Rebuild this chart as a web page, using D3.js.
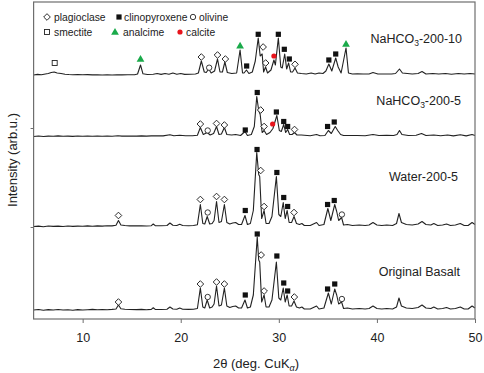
<!DOCTYPE html>
<html><head><meta charset="utf-8">
<script src="https://cdn.jsdelivr.net/npm/d3@7"></script>
<style>body{margin:0;background:#fff}svg{display:block;font-family:"Liberation Sans",Arial,sans-serif}</style>
</head><body><svg id="c" width="484" height="373"></svg>
<script>
const seriesNames = ["Original Basalt","Water-200-5","NaHCO3-200-5","NaHCO3-200-10"];
const offsets = [9, 92.5, 182.5, 244];
const xTicks = [10,20,30,40,50];

const basalt = [[5,0],[5.5,0.5],[6,-0.3],[6.5,0.4],[7,0],[7.5,0.5],[8,0],[8.5,0.3],[9,-0.2],[9.5,0.4],[10,0],[10.5,0.3],[11,0.6],[11.5,0.2],[12,0.5],[12.5,0.3],[13,0.6],[13.4,1],[13.65,5],[13.9,1.2],[14.3,0.8],[14.8,0.5],[15.5,0.4],[16,0.6],[16.5,0.3],[17,0.6],[17.2,2.2],[17.4,0.6],[18,0.5],[18.6,0.8],[18.9,3],[19.2,1],[19.6,0.8],[19.9,2],[20.2,0.8],[20.8,0.6],[21.3,0.8],[21.7,1.5],[22.0,22],[22.25,3],[22.45,2],[22.7,10],[22.95,2],[23.2,3],[23.4,6],[23.65,24],[23.9,4],[24.15,5],[24.45,22],[24.7,4],[25.0,2.5],[25.3,3.5],[25.6,4],[25.9,2],[26.2,2],[26.55,10],[26.8,2],[27.1,3],[27.4,15],[27.8,73],[27.95,50],[28.05,48],[28.25,8],[28.5,15],[28.7,3],[29.0,3],[29.3,10],[29.75,48],[30.0,12],[30.2,10],[30.45,22],[30.65,8],[30.85,15],[31.05,4],[31.3,4],[31.55,9],[31.8,3],[32.1,2],[32.35,3],[32.6,1],[33.2,1],[33.85,4],[34.1,1],[34.6,2],[35.05,17],[35.35,6],[35.7,21],[35.9,15],[36.1,6],[36.4,8],[36.6,1.5],[37.0,2],[37.5,1],[38.2,1.5],[38.8,1],[39.2,1.5],[39.6,4],[40,1.5],[40.5,1],[41,1.5],[41.6,1],[42.0,3],[42.25,12],[42.5,4],[43,2],[43.6,1.5],[44.2,2.5],[44.6,5],[45,2],[45.5,1.5],[45.8,3],[46.2,1],[46.7,1.5],[47.1,2.5],[47.5,1],[48,1.5],[48.5,3],[48.9,1],[49.3,1],[49.7,4],[50,2]];

const water = [[5,0],[5.5,0.4],[6,-0.2],[6.5,0.5],[7,0.1],[7.5,0.4],[8,0],[8.5,0.5],[9,0.1],[9.5,0.4],[10,0.2],[10.5,0.6],[11,0.3],[11.5,0.6],[12,0.4],[12.5,0.8],[13,0.6],[13.4,1.2],[13.65,6],[13.9,1.5],[14.3,1],[14.8,0.6],[15.5,0.6],[16,0.8],[16.5,0.5],[17,0.8],[17.2,2.5],[17.4,0.8],[18,0.7],[18.6,1],[18.9,3.5],[19.2,1.2],[19.6,1],[19.9,2.2],[20.2,1],[20.8,0.8],[21.3,1],[21.7,1.8],[22.0,22],[22.25,3],[22.45,2.5],[22.7,10],[22.95,2.5],[23.2,3],[23.4,6],[23.65,25],[23.9,4],[24.15,5],[24.45,22],[24.7,4],[25.0,2.5],[25.3,3.5],[25.6,4],[25.9,2],[26.2,2],[26.55,11],[26.8,2],[27.1,3],[27.4,16],[27.75,74],[27.95,52],[28.05,50],[28.25,8],[28.5,16],[28.7,3],[29.0,3],[29.3,10],[29.75,50],[30.0,12],[30.2,10],[30.45,24],[30.65,8],[30.85,16],[31.05,4],[31.3,4],[31.55,10],[31.8,3],[32.1,2],[32.35,3],[32.6,1],[33.2,1],[33.85,4],[34.1,1],[34.6,2],[35.0,18],[35.3,6],[35.7,22],[35.9,15],[36.1,6],[36.4,9],[36.6,1.5],[37,2],[37.5,1],[38.2,1.5],[38.8,1],[39.2,1.5],[39.6,4],[40,1.5],[40.5,1],[41,1.5],[41.6,1],[42,3],[42.25,13],[42.5,4],[43,2],[43.6,1.5],[44.2,2.5],[44.6,5],[45,2],[45.5,1.5],[45.8,3],[46.2,1],[46.7,1.5],[47.1,2.5],[47.5,1],[48,1.5],[48.5,3],[48.9,1],[49.3,1],[49.7,4],[50,2]];

const nahco3_5 = [[5,0],[5.5,0.5],[6,0],[6.5,0.4],[7,0.2],[7.5,0.6],[8,0.2],[8.5,0.4],[9,0.1],[9.5,0.5],[10,0.3],[10.5,0.5],[11,0.2],[11.5,0.5],[12,0.3],[12.5,0.5],[13,0.3],[13.6,0.8],[14,0.4],[14.8,0.5],[15.5,0.4],[16,0.6],[16.5,0.4],[17,0.6],[17.5,0.8],[18.2,0.6],[18.9,1.8],[19.3,0.8],[19.9,1.2],[20.5,0.8],[21.2,0.8],[21.7,1.2],[22.0,9],[22.3,2],[22.7,4],[23.0,1.5],[23.35,3],[23.65,10],[23.9,2],[24.15,2.5],[24.45,9],[24.7,2],[25.2,1.5],[25.6,2],[26.1,1],[26.55,5],[26.8,1],[27.2,2],[27.5,10],[27.75,40],[27.95,26],[28.1,22],[28.3,4],[28.5,6],[28.75,2],[29.1,4],[29.4,8],[29.8,21],[30.05,6],[30.25,5],[30.5,12],[30.7,4],[30.9,7],[31.1,2],[31.35,2],[31.6,4],[31.85,1.5],[32.3,1.5],[33.2,0.8],[33.85,2],[34.2,0.8],[34.7,1],[35.05,6],[35.35,3],[35.75,10],[36.0,6],[36.3,2],[36.6,1],[37.2,1],[38,1],[38.8,0.8],[39.6,2],[40.2,1],[41,1.2],[41.7,1],[42.05,2],[42.3,6],[42.55,2],[43.2,1],[44.0,1.2],[44.55,3],[45,1],[45.8,1.5],[46.5,0.8],[47.2,1.5],[47.8,0.6],[48.5,1.8],[49.1,0.6],[49.7,2],[50,1]];

const nahco3_10 = [[5,0],[5.4,0.6],[5.8,0.2],[6.2,1],[6.5,1.5],[6.8,2.5],[7.1,3],[7.4,2],[7.8,1.5],[8.2,0.8],[8.6,0.5],[9,0.3],[9.5,0.5],[10,0.2],[10.5,0.4],[11,0.1],[11.5,0.3],[12,0],[12.5,0.2],[13,0],[13.5,0.3],[14,0.1],[14.6,0.3],[15.3,0.3],[15.6,1],[15.9,10],[16.15,1.2],[16.6,0.5],[17.2,0.8],[17.6,1.5],[18,0.6],[18.4,1.5],[18.8,0.8],[19.2,2],[19.6,0.8],[20.0,1.5],[20.4,0.6],[21,0.8],[21.5,1],[21.8,2],[22.1,14],[22.4,3],[22.6,2.5],[22.85,6],[23.1,2],[23.45,4],[23.75,16],[24.0,3],[24.25,3],[24.5,13],[24.75,2.5],[25.2,1.5],[25.7,2],[26.05,25],[26.3,2],[26.45,2],[26.7,5],[26.95,1.5],[27.3,3],[27.6,14],[27.9,37],[28.1,19],[28.3,21],[28.45,3],[28.65,8],[28.85,2],[29.2,5],[29.5,15],[29.65,10],[29.95,37],[30.2,8],[30.35,7],[30.6,21],[30.8,6],[31.0,12],[31.2,3],[31.4,3],[31.65,7],[31.9,2],[32.3,1.5],[32.8,1],[33.3,2],[33.7,1],[34.1,2],[34.5,1.5],[34.8,4],[35.1,11],[35.4,4],[35.8,17],[36.05,8],[36.35,2],[36.85,27],[37.1,2],[37.5,1],[38,1.2],[38.6,1],[39.2,1],[39.6,2.5],[40.1,1],[40.8,1],[41.5,1],[41.9,1.5],[42.3,6],[42.6,2],[43.1,1.5],[43.6,1],[44.2,1.5],[44.6,3.5],[45,1],[45.7,1.5],[46.3,1],[47,1.5],[47.6,0.8],[48.3,1.5],[48.9,1],[49.5,1.5],[50,1]];

// markers: [2theta, height above own baseline, phase]
const basaltMarks = [[13.65,8,"pl"],[22.0,26,"pl"],[22.75,13,"ol"],[23.65,28,"pl"],[24.45,26,"pl"],[26.58,15,"cpx"],[27.8,76,"cpx"],[28.2,55,"pl"],[28.5,19,"pl"],[29.8,54,"cpx"],[30.5,27,"cpx"],[30.9,19,"cpx"],[31.58,13,"pl"],[34.97,21,"cpx"],[35.7,26,"cpx"],[36.43,11,"ol"]];
const waterMarks = [[13.65,11,"pl"],[22.0,27,"pl"],[22.75,14,"ol"],[23.65,30,"pl"],[24.45,27,"pl"],[26.58,16,"cpx"],[27.78,77,"cpx"],[28.15,56,"pl"],[28.5,20,"pl"],[29.8,54,"cpx"],[30.5,29,"cpx"],[30.9,20,"cpx"],[31.55,14,"pl"],[34.97,22,"cpx"],[35.65,26,"cpx"],[36.43,12,"ol"]];
const nahco3_5Marks = [[22.0,12.5,"pl"],[22.75,6,"ol"],[23.65,13,"pl"],[24.45,11.5,"pl"],[26.58,6.5,"cpx"],[27.8,44,"cpx"],[28.15,26.5,"pl"],[28.5,10,"pl"],[29.37,12.5,"cal"],[29.75,24.5,"cpx"],[30.5,15,"cpx"],[30.9,10,"cpx"],[31.6,7,"pl"],[34.97,10,"cpx"],[35.65,14.5,"cpx"]];
const nahco3_10Marks = [[7.15,12,"sm"],[15.9,16,"an"],[22.1,18,"pl"],[22.9,7.3,"ol"],[23.75,20,"pl"],[24.55,16,"pl"],[26.05,29.3,"an"],[26.72,9,"cpx"],[27.9,40.7,"cpx"],[28.4,28,"pl"],[28.66,12,"pl"],[29.5,19,"cal"],[29.95,40.7,"cpx"],[30.56,25.7,"cpx"],[31.07,16,"cpx"],[31.65,10.7,"pl"],[35.1,15,"cpx"],[35.8,21,"cpx"],[36.85,31,"an"]];

const legendNames = [["pl","plagioclase"],["cpx","clinopyroxene"],["ol","olivine"],["sm","smectite"],["an","analcime"],["cal","calcite"]];

const series = [basalt, water, nahco3_5, nahco3_10];
const marks = [basaltMarks, waterMarks, nahco3_5Marks, nahco3_10Marks];

const svg = d3.select("#c");
const L=33.6, R=475, T=2, B=319;
const x = d3.scaleLinear().domain([5,50]).range([L,R]);
const y = d3.scaleLinear().domain([0,317]).range([B,T]);
const ink = "#222";

// traces
const line = d3.line().x(d=>x(d[0])).y(d=>d[1]);
series.forEach((s,i)=>{
  svg.append("path").attr("d", line(s.map(p=>[p[0], y(p[1]+offsets[i])])))
    .attr("fill","none").attr("stroke",ink).attr("stroke-width",1.1).attr("stroke-linejoin","round");
});

function drawSym(g, type, cx, cy){
  if(type==="pl"){
    g.append("path").attr("d",d3.symbol(d3.symbolSquare,22)()).attr("transform",`translate(${cx},${cy}) rotate(45)`)
     .attr("fill","#fff").attr("stroke",ink).attr("stroke-width",0.9);
  } else if(type==="cpx"){
    g.append("rect").attr("x",cx-2.6).attr("y",cy-2.6).attr("width",5.2).attr("height",5.2).attr("fill","#111");
  } else if(type==="ol"){
    g.append("circle").attr("cx",cx).attr("cy",cy).attr("r",2.7).attr("fill","#fff").attr("stroke",ink).attr("stroke-width",0.9);
  } else if(type==="sm"){
    g.append("rect").attr("x",cx-2.5).attr("y",cy-2.5).attr("width",5).attr("height",5).attr("fill","#fff").attr("stroke",ink).attr("stroke-width",0.9);
  } else if(type==="an"){
    g.append("path").attr("d",d3.symbol(d3.symbolTriangle,26)()).attr("transform",`translate(${cx},${cy+0.5})`).attr("fill","#1aaa4a");
  } else if(type==="cal"){
    g.append("circle").attr("cx",cx).attr("cy",cy).attr("r",2.6).attr("fill","#e8141c");
  }
}
const mg = svg.append("g");
marks.forEach((m,i)=>{
  m.forEach(d=>drawSym(mg, d[2], x(d[0]), y(d[1]+offsets[i])));
});

// frame
svg.append("rect").attr("x",L).attr("y",T).attr("width",R-L).attr("height",B-T)
  .attr("fill","none").attr("stroke","#6e6e6e").attr("stroke-width",1.2);

// x axis
const xa = svg.append("g").attr("transform",`translate(0,${B})`)
  .call(d3.axisBottom(x).tickValues(xTicks).tickSize(4).tickPadding(10).tickFormat(d3.format("d")));
xa.select(".domain").remove();
xa.selectAll("line").attr("stroke","#6e6e6e");
xa.selectAll("text").attr("font-size","12.5px").attr("fill",ink).attr("font-family","Liberation Sans, Arial, sans-serif");

// y axis ticks (no labels)
const ya = svg.append("g").attr("transform",`translate(${L},0)`)
  .call(d3.axisLeft(y).tickValues([92,191]).tickSize(3).tickFormat(""));
ya.select(".domain").remove();
ya.selectAll("line").attr("stroke","#6e6e6e");

// axis titles
const xt = svg.append("text").attr("x",256).attr("y",368).attr("text-anchor","middle").attr("font-size","13px").attr("fill",ink);
xt.append("tspan").text("2θ (deg. CuK");
xt.append("tspan").attr("font-size","9px").attr("font-style","italic").attr("dy",3).text("α");
xt.append("tspan").attr("dy",-3).text(")");

svg.append("text").attr("transform","translate(17,160) rotate(-90)").attr("text-anchor","middle")
  .attr("font-size","13px").attr("fill",ink).text("Intensity (arb.u.)");

// series labels
const labelPos = [[460,275.5],[458,181],[461,104.5],[462,43]];
seriesNames.forEach((n,i)=>{
  const t = svg.append("text").attr("x",labelPos[i][0]).attr("y",labelPos[i][1]).attr("text-anchor","end")
    .attr("font-size","12.5px").attr("fill",ink);
  const m = n.match(/^(NaHCO)3(.*)$/);
  if(m){
    t.append("tspan").text(m[1]);
    t.append("tspan").attr("font-size","8.5px").attr("dy",3).text("3");
    t.append("tspan").attr("dy",-3).text(m[2]);
  } else t.text(n);
});

// legend: [symbol x, symbol y, text x]
const legPos = [[47,17,54],[119,17,124],[193,17,199],[47,32,54],[115,32,123],[180,32,186]];
const lg = svg.append("g");
legendNames.forEach((d,i)=>{
  const [lx,ly,tx] = legPos[i];
  drawSym(lg, d[0], lx, ly);
  lg.append("text").attr("x",tx).attr("y",ly+3.7).attr("font-size","10.3px").attr("fill",ink).text(d[1]);
});
</script></body></html>
